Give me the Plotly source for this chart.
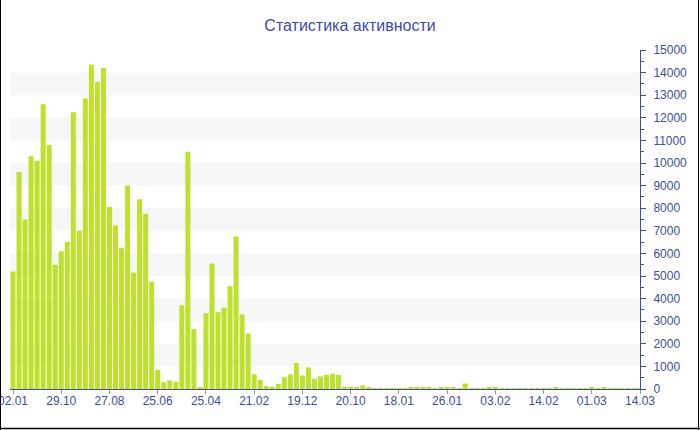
import plotly.graph_objects as go

# ---- data ----
values = [
    5200, 9600, 7500, 10300, 10100, 12600, 10800, 5500, 6100, 6500,
    12250, 7000, 12850, 14350, 13600, 14200, 8050, 7250, 6250, 9000,
    5150, 8400, 7750, 4750, 850, 300, 380, 320, 3700, 10500,
    2650, 70, 3350, 5550, 3400, 3600, 4550, 6750, 3300, 2450,
    650, 400, 130, 100, 230, 520, 650, 1150, 600, 950,
    450, 560, 630, 680, 620, 90, 100, 60, 160, 90,
    20, 20, 25, 20, 15, 20, 60, 60, 50, 50,
    40, 50, 60, 90, 40, 240, 40, 40, 40, 60,
    60, 40, 40, 40, 40, 30, 40, 30, 40, 30,
    70, 30, 30, 30, 40, 30, 60, 30, 70, 30,
    30, 30, 40, 30, 30,
]
categories = list(range(len(values)))
tick_positions = [0, 8, 16, 24, 32, 40, 48, 56, 64, 72, 80, 88, 96, 104]
tick_labels = ["02.01", "29.10", "27.08", "25.06", "25.04", "21.02", "19.12",
               "20.10", "18.01", "26.01", "03.02", "14.02", "01.03", "14.03"]
band_starts = [1000, 3000, 5000, 7000, 9000, 11000, 13000]

AXIS = "#3d4f9c"
TXT = "#3d4e9a"
BAR = "#bde22d"

fig = go.Figure()
fig.add_trace(go.Bar(x=categories, y=values, marker=dict(color=BAR, line=dict(width=0)),
                     hoverinfo="skip"))

shapes = []
for b in band_starts:
    shapes.append(dict(type="rect", xref="paper", yref="y", x0=0, x1=1, y0=b, y1=b + 1000,
                       fillcolor="#f7f7f7", line=dict(width=0), layer="below"))
# outer frame lines (left, right, bottom)
L, T, PW, PH = 10.0, 50.0, 630.0, 339.0
def px(x):
    return (x - L) / PW
def py(y):
    return (T + PH - y) / PH
shapes.append(dict(type="line", xref="paper", yref="paper", x0=px(0.5), x1=px(0.5),
                   y0=py(430), y1=py(0), line=dict(color="black", width=1)))
shapes.append(dict(type="line", xref="paper", yref="paper", x0=px(698.5), x1=px(698.5),
                   y0=py(430), y1=py(0), line=dict(color="black", width=1)))
shapes.append(dict(type="line", xref="paper", yref="paper", x0=px(0), x1=px(700),
                   y0=py(428.5), y1=py(428.5), line=dict(color="black", width=1.5)))

fig.update_layout(
    width=700, height=430,
    margin=dict(l=10, r=60, t=50, b=41, autoexpand=False),
    paper_bgcolor="white", plot_bgcolor="white",
    bargap=0.17,
    showlegend=False,
    title=dict(text="Статистика активности", x=0.5, xref="container", y=1 - 25 / 430,
               yanchor="middle", font=dict(family="Liberation Sans, Arial", size=16, color=TXT)),
    font=dict(family="Liberation Sans, Arial", size=12, color=TXT),
    shapes=shapes,
    xaxis=dict(
        type="linear", range=[-0.5, 104.0], automargin=False,
        tickmode="array", tickvals=tick_positions, ticktext=tick_labels,
        ticklabeloverflow="allow", ticklabelstandoff=-3,
        showgrid=False, zeroline=False,
        showline=True, linecolor=AXIS, linewidth=1,
        ticks="outside", ticklen=4, tickcolor="#8c93b3",
        tickfont=dict(size=12, color=TXT),
    ),
    yaxis=dict(
        side="right", range=[0, 15000], dtick=1000, tickformat="d", automargin=False,
        ticklabeloverflow="allow", ticklabelstandoff=5,
        showgrid=False, zeroline=False,
        showline=True, linecolor=AXIS, linewidth=1,
        ticks="outside", ticklen=5, tickcolor=AXIS,
        tickfont=dict(size=12, color=TXT),
        minor=dict(dtick=500, ticks="outside", ticklen=3, tickcolor=AXIS, showgrid=False),
    ),
)

fig.write_html("out.html", config={"displayModeBar": False},
               post_script="document.body.style.margin='0';")
